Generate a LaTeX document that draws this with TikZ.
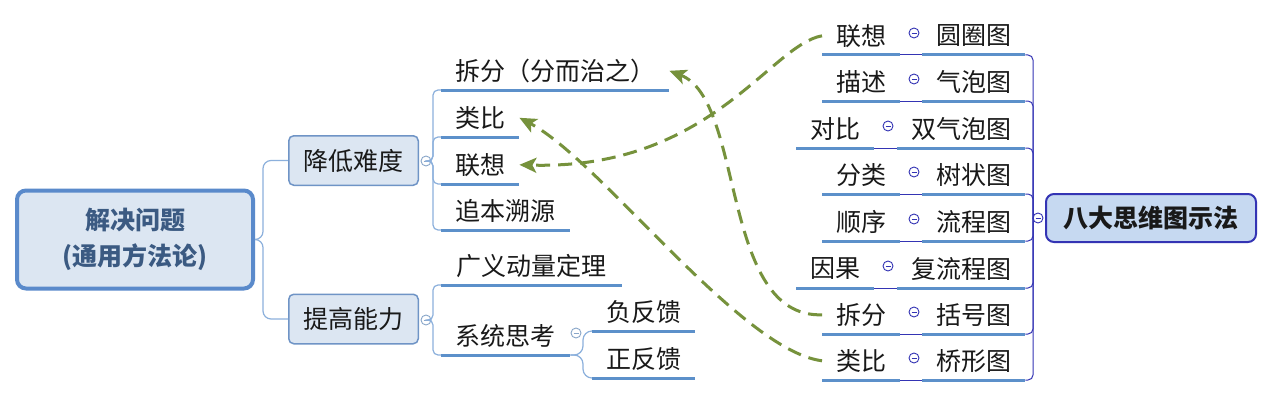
\documentclass[tikz,border=0pt]{standalone}
\usepackage{fontspec}
\usepackage{tikz}
\usetikzlibrary{arrows.meta, positioning}
\setmainfont{Noto Sans CJK SC}
\definecolor{boxfill}{HTML}{DCE6F2}
\definecolor{rootedge}{HTML}{5A8ACB}
\definecolor{roottext}{HTML}{3B5A82}
\definecolor{boxedge}{HTML}{6F94C6}
\definecolor{lline}{HTML}{8CB0DC}
\definecolor{rline}{HTML}{3434B4}
\definecolor{uline}{HTML}{5C90CA}
\definecolor{badafill}{HTML}{C6D9F1}
\definecolor{linkgreen}{HTML}{76923C}

\begin{document}
\begin{tikzpicture}[
                x=1pt, y=-1pt,
                every node/.style={inner sep=0pt, font=\fontsize{25}{30}\selectfont, text=black!90},
                mainbox/.style={draw=rootedge, line width=4pt, fill=boxfill, rounded corners=9pt,
                    minimum width=236pt, minimum height=98pt, align=center,
                    font=\fontsize{25}{36}\selectfont\bfseries, text=roottext},
                subbox/.style={draw=boxedge, line width=1.5pt, fill=boxfill, rounded corners=5pt,
                    minimum width=129.5pt, minimum height=49.5pt},
                badabox/.style={draw=rline, line width=2pt, fill=badafill, rounded corners=8pt,
                    minimum width=210pt, minimum height=48pt, font=\fontsize{25}{30}\selectfont\bfseries},
                topic/.style={anchor=south west, minimum height=38pt},
                fold/.style={circle, draw=#1, line width=0.9pt, fill=white, minimum size=10pt,
                    path picture={\draw[#1, line width=0.8pt] ([xshift=2.5pt]path picture bounding box.west)
                        -- ([xshift=-2.5pt]path picture bounding box.east);}},
                ltree/.style={draw=lline, line width=1.2pt, rounded corners=8pt},
                rtree/.style={draw=rline, line width=1pt, rounded corners=5pt},
                under/.style={draw=uline, line width=3pt},
                link/.style={draw=linkgreen, line width=3pt, dash pattern=on 14pt off 8pt,
                    -{Stealth[length=17pt, width=15pt, inset=4pt]}}]

            \fill[white] (0,0) rectangle (1269,404);
            \useasboundingbox (0,0) rectangle (1269,404);

            % Arbre gauche
            \node[mainbox] (root) at (135,239.5) {解决问题\\(通用方法论)};
            \node[subbox] (reduce) at (353.5,160.5) {降低难度};
            \node[subbox] (raise) at (353.5,319) {提高能力};
            \draw[ltree] (root.east) -- ++(8,0) |- (reduce.west);
            \draw[ltree] (root.east) -- ++(8,0) |- (raise.west);

            \node[fold=lline!80!gray] (freduce) at (426,161) {};
            \node[fold=lline!80!gray] (fraise) at (426,320) {};

            \node[topic, minimum width=228pt] (split) at (441,90) {拆分（分而治之）};
            \node[topic, minimum width=78pt] (analog) at (441,137) {类比};
            \node[topic, minimum width=78pt] (assoc) at (441,184) {联想};
            \node[topic, minimum width=129pt] (origin) at (441,230) {追本溯源};
            \node[topic, minimum width=181pt] (momentum) at (441,285) {广义动量定理};
            \node[topic, minimum width=129pt] (system) at (441,355) {系统思考};
            \node[topic, minimum width=103pt] (negfb) at (592,331) {负反馈};
            \node[topic, minimum width=103pt] (posfb) at (592,378) {正反馈};
            \node[fold=lline!80!gray] (fsystem) at (576,333) {};

            \foreach \n in {split, analog, assoc, origin}
                \draw[ltree, rounded corners=5pt] (freduce.east) -- (433,161) |- (\n.south west);
            \foreach \n in {momentum, system}
                \draw[ltree, rounded corners=5pt] (fraise.east) -- (433,320) |- (\n.south west);
            \foreach \n in {negfb, posfb}
                \draw[ltree, rounded corners=9pt] (system.south east) -- (583,355) |- (\n.south west);
            \foreach \n in {split, analog, assoc, origin, momentum, system, negfb, posfb}
                \draw[under] (\n.south west) -- (\n.south east);

            % Arbre droit
            \node[badabox] (bada) at (1151,218) {八大思维图示法};
            \node[fold=rline] (fbada) at (1038,218) {};
            \coordinate (hub) at (1033,218);
            \draw[rtree] (fbada.west) -- (hub);

            \foreach \y/\lx/\cx/\rx/\a/\b [count=\i] in {
                    55/822/914/922/联想/圆圈图, 101/822/914/922/描述/气泡图,
                    148/796/888/897/对比/双气泡图, 194/822/914/922/分类/树状图,
                    241/822/914/922/顺序/流程图, 288/796/888/897/因果/复流程图,
                    334/822/914/922/拆分/括号图, 380/822/914/922/类比/桥形图} {
                \node[topic, minimum width=78pt] (l\i) at (\lx,\y) {\a};
                \node[topic, minimum width={(1025-\rx)*1pt}] (r\i) at (\rx,\y) {\b};
                \node[fold=rline] (f\i) at (\cx,\y-22) {};
                \draw[rtree] (l\i.south east) -- (r\i.south west);
                \draw[under] (l\i.south west) -- (l\i.south east);
                \draw[under] (r\i.south west) -- (r\i.south east);
                \draw[rtree] (hub) |- (r\i.south east);
            }

            % Liens
            \draw[link] (l1.west) .. controls (770,45) and (710,170) .. (assoc.east);
            \draw[link] (l7.west) .. controls (720,318) and (745,100) .. (split.east);
            \draw[link] (l8.west) .. controls (740,350) and (600,160) .. (analog.east);

        \end{tikzpicture}
\end{document}
